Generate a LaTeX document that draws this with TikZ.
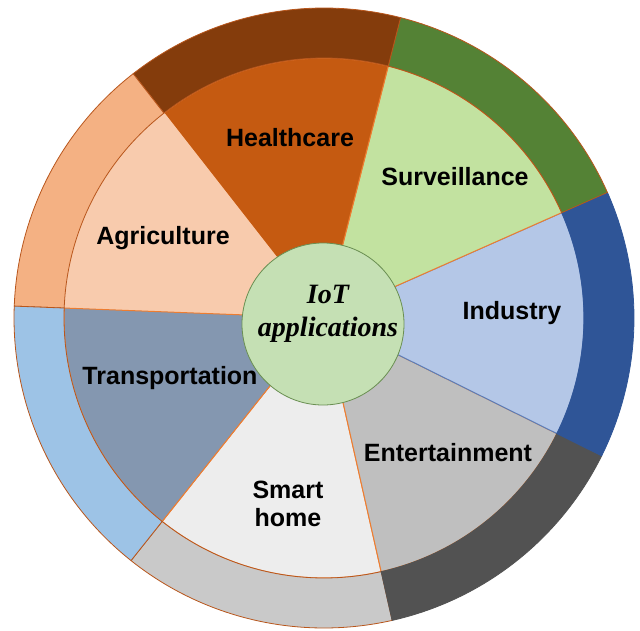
\documentclass[tikz,border=0pt]{standalone}
\usepackage{fontspec}
\setmainfont{Liberation Serif}
\setsansfont{Liberation Sans}
\usepackage{tikz}

% sector colours (inner / outer ring)
\definecolor{smartin}{HTML}{EDEDED}  \definecolor{smartout}{HTML}{C9C9C9}
\definecolor{entin}{HTML}{BFBFBF}    \definecolor{entout}{HTML}{525252}
\definecolor{indin}{HTML}{B4C7E7}    \definecolor{indout}{HTML}{2F5597}
\definecolor{survin}{HTML}{C2E2A0}   \definecolor{survout}{HTML}{548235}
\definecolor{healthin}{HTML}{C55A11} \definecolor{healthout}{HTML}{843C0C}
\definecolor{agriin}{HTML}{F8CBAD}   \definecolor{agriout}{HTML}{F4B183}
\definecolor{transin}{HTML}{8497B0}  \definecolor{transout}{HTML}{9DC3E6}
\definecolor{edgeorange}{HTML}{ED7D31}
\definecolor{ringedge}{HTML}{B8561C}
\definecolor{indedge}{HTML}{5B7DB8}
\definecolor{hubgreen}{HTML}{C5E0B4}
\definecolor{hubedge}{HTML}{6A8F52}

\begin{document}
\begin{tikzpicture}[x=1pt,y=1pt,
    seclabel/.style={font=\sffamily\bfseries\fontsize{25}{28}\selectfont, align=center, inner sep=0pt},
    hublabel/.style={font=\rmfamily\bfseries\itshape\fontsize{28}{33}\selectfont, align=center, inner sep=0pt}]
    \useasboundingbox (-324,-312) rectangle (316,318);
    \coordinate (O) at (0,0);

    % Draw the inner sectors
    \foreach \a/\b/\c/\d in {-128.5/-77.3/smartin/edgeorange, -77.3/-26.4/entin/edgeorange,
                             -26.4/23.9/indin/indedge, 23.9/75.7/survin/edgeorange,
                             75.7/128/healthin/edgeorange, 128/177.8/agriin/agriin,
                             177.8/231.5/transin/edgeorange}
        \filldraw[fill=\c, draw=\d, line width=1pt] (O) -- (\a:260) arc[start angle=\a, end angle=\b, radius=260] -- cycle;

    % Draw the outer ring
    \foreach \a/\b/\c/\d in {-128.5/-77.3/smartout/ringedge, -77.3/-26.4/entout/entout,
                             -26.4/23.9/indout/indout, 23.9/75.7/survout/ringedge,
                             75.7/128/healthout/ringedge, 128/177.8/agriout/ringedge,
                             177.8/231.5/transout/ringedge}
        \filldraw[fill=\c, draw=\d, line width=0.8pt] (\a:260) -- (\a:310) arc[start angle=\a, end angle=\b, radius=310]
            -- (\b:260) arc[start angle=\b, end angle=\a, radius=260] -- cycle;

    % Centre circle and labels
    \node[circle, fill=hubgreen, draw=hubedge, line width=0.8pt, minimum size=162pt, inner sep=0pt] (hub) at (-1,-6) {};
    \node[hublabel] (iot) at (4,4.5) {IoT\\applications};

    \node[seclabel] (health) at (-34,180) {Healthcare};
    \node[seclabel] (agri) at (-161,80) {Agriculture};
    \node[seclabel] (surv) at (131,141) {Surveillance};
    \node[seclabel] (ind) at (188,5) {Industry};
    \node[seclabel] (ent) at (124,-135) {Entertainment};
    \node[seclabel] (smart) at (-36,-186) {Smart\\home};
    \node[seclabel] (trans) at (-154,-60) {Transportation};
\end{tikzpicture}
\end{document}
